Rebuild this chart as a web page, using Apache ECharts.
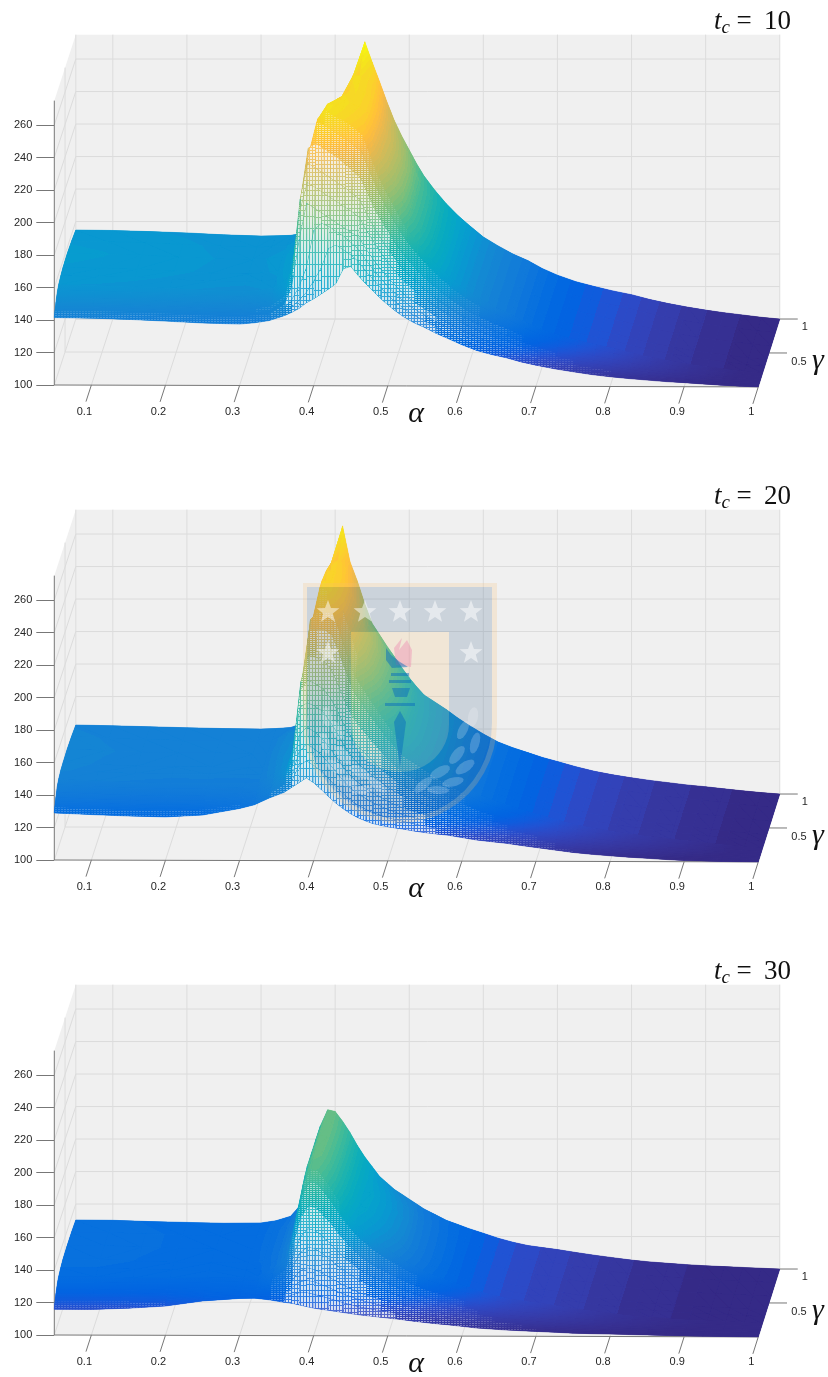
<!DOCTYPE html>
<html><head><meta charset="utf-8">
<style>html,body{margin:0;padding:0;background:#fff}#c{width:828px;height:1377px}</style>
<script src="https://cdn.jsdelivr.net/npm/echarts@6/dist/echarts.min.js"></script>
</head><body><div id="c"></div>
<script>
const baseAlphas=[.05,.1,.2,.3,.34,.36,.37,.38,.39,.4,.41,.42,.43,.44,.45,.46,.48,.5,.52,.55,.58,.62,.66,.7,.75,.8,.85,.9,.95,1];
const flankAlphas=[.47,.49,.51,.535,.565,.6,.64,.68,.725,.775,.825,.875,.925,.975];
const leftAlphas=[.15,.25,.32];
const gammas=[0,.01,.02,.03,.05,.07,.1,.15,.2,.3,.4,.6,.8,1];
const alphaTicks=[.1,.2,.3,.4,.5,.6,.7,.8,.9,1];
const gammaTicks=[.5,1];
const zTicks=[100,120,140,160,180,200,220,240,260];
const panelTitles=['10','20','30'];

// tc = 10, one row per gamma, columns baseAlphas
const z10=[
[141.5,141.2,139.5,137.8,140,143,145,147.5,151,153.5,156.5,159.5,163,172,173.5,168,158.5,150,143,136,129.5,122,117.5,113,109,106,104,102.5,101,100],
[142.7,142.4,140.7,139,141,145,148,152,157,164,172,184,186,183,180,176,165,155,147.5,139.5,132,124,119,114.5,110,107,104.5,103,101,100],
[143.9,143.6,141.9,140.2,142,147,152,160,172,195,199,197,194,191,187,183,170.5,160,151.5,142.5,135,126.5,121,115.5,111,107.5,105,103,101,100],
[144.9,144.6,142.9,141.2,143,149,160,189,211,208,205,202,199,196,193,190,176,165,155.5,146,137.5,128.5,122.5,117,112,108.5,105.5,103,101.5,100],
[146,145.7,144,142.3,144,151,166,205,223,220,217,214,211,208,205,201.5,186,173,162.5,151,142,132,125.5,119,114,110,106.5,104,101.5,100],
[147.5,147.2,145.5,143.8,146,153,170,212,234,231,228,225,222,219,215.5,211.5,194,180,168,155.5,145.5,135,128,121,115,111,107,104,102,100],
[149.5,149.2,147.5,145.8,148,155,172,212,242,245,242,239,236,232,228,224,204,189,175.5,161,150,138.5,131,123,117,112.5,108,104.5,102,100],
[152,151.7,150,148.3,150.5,157,170,200,238,256,254,251,248,245,241.5,238,216,198.5,183.5,167.5,155,143,134,125.5,119,114,109,105,102.5,100],
[153.5,153.2,151.5,149.8,152,158,170,192,226,256,261,258,256,253,250,246,222,204,188,171,158,145,136,127,120,115,109.5,105.5,102.5,100],
[155,154.7,153,151.3,153,159,170,186,212,244,261,260,258,256,253,250,227,210.5,192,173,158,145,136,127,120,115,109.5,105.5,102.5,100],
[156,155.7,154,152.3,154,159.5,170,182,202,230,255,260,259,257,255,252,229,213.5,193,174,158,145,136,127,120,115,109.5,105.5,102.5,100],
[156.5,156.2,154.5,152.8,154.5,159.5,170,180,195,215,237,253,256,258,256,252,230,215,193,174,158,145,136,127,120,115,109.5,105.5,102.5,100],
[156,155.7,154,152.3,153,157,166,174,186,202,222,243,258,258,255,250,227,211,192,173,158,145,136,127,120,115,109.5,105.5,102.5,100],
[154.8,154.5,153,151.1,151.5,153,156,162,170,182,197,217,243,270.6,258,246,222,204,188,171,158,145,136,127,120,115,109.5,105.5,102.5,100]];
const z10Flank=[
[163,154,146.3,139,132.5,125.5,119.5,115,110.8,107.3,104.9,103.1,101.7,100.4],
[170,159.9,151.2,143,135.7,128,121.6,116.6,112,108.3,105.6,103.5,101.9,100.5],
[176.4,165.1,155.6,146.6,138.5,130.3,123.4,118,113.1,109.2,106.2,103.9,102.1,100.5],
[182.7,170.4,160.1,150.2,141.3,132.5,125.2,119.5,114.2,110.1,106.9,104.3,102.3,100.6],
[193.3,179.2,167.5,156.2,146,136.3,128.3,121.9,116,111.6,108,105,102.6,100.7],
[202.5,186.8,173.9,161.4,150.1,139.5,131,124,117.6,112.9,108.9,105.5,102.9,100.8],
[213.8,196.1,181.7,167.8,155.2,143.5,134.3,126.5,119.6,114.5,110,106.2,103.3,100.9],
[226.5,206.7,190.6,175,160.9,148,137.9,129.4,121.8,116.3,111.3,107,103.7,101],
[233.5,212.5,195.5,179,164,150.5,140,131,123,117.3,112,107.4,103.9,101.1],
[239,219,201.5,182,165.5,150.5,140,131,123,117.3,112,107.4,103.9,101.1],
[241,222,204.5,183,166,150.5,140,131,123,117.3,112,107.4,103.9,101.1],
[242,223,205.5,183,166,150.5,140,131,123,117.3,112,107.4,103.9,101.1],
[239,219,201.9,182,165.5,150.5,140,131,123,117.3,112,107.4,103.9,101.1],
[233.5,212.5,195.5,179,164,150.5,140,131,123,117.3,112,107.4,103.9,101.1]];
const z10Left=[[140.5,138.4,138.6],[141.7,139.6,139.7],[142.9,140.8,141],[143.9,141.8,142],[145,142.9,143],[146.5,144.4,144.6],[148.5,146.4,146.6],[151,148.9,149],[152.5,150.4,150.5],[154,151.9,152],[155,152.9,153],[155.5,153.4,153.5],[155,152.9,152.6],[153.8,151.8,151.2]];

// tc = 20, one row per gamma, columns baseAlphas
const z20=[
[129,128,126.7,132,138.5,142,145,148,151,148,144,139.5,135.5,132,129,126.5,123,121,119.7,117.5,116,113,111,108.5,105.5,103.5,102,100.7,100.2,100],
[130.3,129.3,128,132.8,139.5,144,148,158,161,158,155,149.9,145,140.5,136.6,133.6,129,126,123.8,121,118.6,115,112.5,109.6,106.4,104.2,102.5,101,100.4,100],
[131.6,130.6,129.3,133.6,140.5,146,151,166,171,168,164,159,153.6,148,143.4,140,134.7,130.6,127.5,124,121,116.6,113.8,110.7,107,104.7,103,101.4,100.5,100],
[132.4,131.4,130.1,134.1,141,147,155,176,181,178,174,168.5,162.2,155.8,150.3,146.5,140,135,131.3,127,123.4,118.3,115,111.7,107.9,105.3,103.4,101.8,100.7,100],
[134,133,131.7,135,141.5,149,160,192,195,193,190,184,176.6,168.6,161.7,157,149.4,142.7,137.5,132.3,127.4,121.2,117.2,113.4,109.2,106.3,104.2,102.3,101,100],
[135.5,134.5,133.2,135.9,142,150,163,202,208,206,203,197.5,189,179.6,171.6,166.5,157.4,149.3,142.8,136.8,130.8,123.6,119,115,110.3,107.1,104.8,102.8,101.2,100],
[137.5,136.5,135.2,137.1,143,151,165,206,222,221,219,214,204,193,184,178,167.3,157.4,149.4,142.3,135,126.7,121.4,116.8,111.6,108.2,105.6,103.4,101.5,100],
[140,139,137.7,138.6,144,151,165,205,236,236,236,232.6,221.5,208.5,197.4,191,178.4,166.5,156.9,148.5,139.9,130.1,124,118.9,113.2,109.4,106.5,104.1,101.8,100],
[141.5,140.5,139.2,139.5,145,151,163,200,240,245,245,243,231,217,205,198,184.5,171.5,161,152,142.5,132,125.5,120,114,110,107,104.5,102,100],
[143,142,140.7,140.4,145.5,151,160,195,236,256,254,248,242,229,214,206.6,191.9,177.6,164,153.5,142.5,132,125.5,120,114,110,107,104.5,102,100],
[143.5,142.5,141.2,140.7,146,151,160,190,228,256,254,250,245,232,219,211,195.6,180.6,165,154,142.5,132,125.5,120,114,110,107,104.5,102,100],
[144,143,141.7,141,146,150,158,186,222,254,253,250,244,233,220,212.3,196.8,181.6,165,154,142.5,132,125.5,120,114,110,107,104.5,102,100],
[143.5,142.5,141.2,140.7,145,148,156,180,216,250,252,247,238,225,212,207.3,192.5,178,164,153.5,142.5,132,125.5,120,114,110,107,104.5,102,100],
[142.5,142,140.8,140,141,144,152,176,204,232,265,243,231,217,205,198,184.5,171.5,161,152,142.5,132,125.5,120,114,110,107,104.5,102,100]];
const z20Flank=[
[124.6,122,120.3,118.5,116.7,114.5,112,109.7,107,104.4,102.7,101.3,100.4,100.1],
[131.2,127.6,124.9,122.3,119.7,116.8,113.7,111,108,105.1,103.3,101.7,100.7,100.2],
[137.2,132.6,129,125.7,122.5,118.8,115.1,112.1,108.9,105.8,103.8,102.1,100.9,100.3],
[143.2,137.6,133.1,129.1,125.2,120.8,116.6,113.3,109.7,106.5,104.3,102.5,101.2,100.3],
[153.2,146,140,134.8,129.7,124.2,119.1,115.2,111.2,107.6,105.2,103.1,101.6,100.4],
[161.8,153.2,145.9,139.8,133.7,127.1,121.2,116.9,112.5,108.5,105.9,103.7,102,100.5],
[172.4,162.1,153.2,145.9,138.5,130.7,123.9,118.9,114.1,109.7,106.8,104.4,102.4,100.7],
[184.4,172.1,161.4,152.7,144,134.8,126.9,121.2,115.8,111.1,107.8,105.2,102.9,100.8],
[191,177.7,166,156.5,147,137,128.5,122.5,116.8,111.8,108.4,105.6,103.2,100.9],
[199,184,171.5,158,148,137,128.5,122.5,116.8,111.8,108.4,105.6,103.2,100.9],
[203,187.7,174.2,159,148.5,137,128.5,122.5,116.8,111.8,108.4,105.6,103.2,100.9],
[204,188.8,175.1,159,148.5,137,128.5,122.5,116.8,111.8,108.4,105.6,103.2,100.9],
[199.6,185,172,158,148,137,128.5,122.5,116.8,111.8,108.4,105.6,103.2,100.9],
[191,177.7,166,156.5,147,137,128.5,122.5,116.8,111.8,108.4,105.6,103.2,100.9]];
const z20Left=[[127.2,127.9,134.3],[128.5,129.1,134.9],[129.8,130.3,135.4],[130.6,131,135.8],[132.2,132.5,136.5],[133.7,133.9,137.2],[135.7,135.7,138],[138.2,138,139.1],[139.7,139.4,139.8],[141.2,140.8,140.5],[141.7,141.2,140.7],[142.2,141.7,141],[141.7,141.2,140.7],[141.4,140.3,140.3]];

// tc = 30, one column per base alpha
const z30ByAlpha=[
[115.8,117.1,118.4,119.4,120.8,122.3,123.8,126.3,127.8,129.3,130.3,130.8,130.8,130.2],
[115.8,117.1,118.4,119.4,120.8,122.3,123.8,126.3,127.8,129.3,130.3,130.8,130.8,130],
[118,119,119.9,120.7,121.7,122.8,123.9,125.8,126.9,128,128.7,129.1,129.1,128.7],
[122.8,123.3,123.8,124.2,124.8,125.3,125.9,126.9,127.5,128.1,128.5,128.7,128.7,128.4],
[122,123,124,125,126.5,128,130,132,133,133.5,134,134,134,132.5],
[120.5,122.7,124.8,126.8,130.2,133.1,136.7,140.3,141.9,142.5,143,143.5,143.5,143],
[120,124.5,128.6,132.6,139.4,145.2,152.4,159.6,162.8,164.1,165,165,165,165],
[119,125.9,132.1,138.3,148.7,157.6,168.7,179.7,184.6,186.6,188,188,188,188],
[118,126,133.2,140.4,152.4,162.8,175.6,188.4,194,196.4,198,198.5,199,198],
[117,125,132.2,139.4,151.4,161.8,174.6,187.4,193,195.4,197,198,198,197],
[116.3,123.8,130.5,137.2,148.4,158.1,170.1,182,187.3,189.5,191,192,192,191],
[115.7,122.5,128.7,134.8,145,153.9,164.9,175.8,180.6,182.6,184,185,185,184],
[115,121.1,126.6,132.1,141.2,149.2,158.9,168.7,173,174.8,176.5,177,177,176],
[114.3,119.8,124.7,129.6,137.8,144.9,153.7,162.4,166.3,168,169.5,170,170,169],
[113.7,118.6,123,127.5,134.9,141.3,149.2,157.1,160.5,162,163.5,164,164,163],
[113,117.4,121.4,125.3,131.9,137.6,144.7,152.6,157,160,162,163,160,157],
[112,115.7,119,122.4,127.9,132.7,138.6,145.3,149,153.4,155.7,156.4,153.8,149],
[111,114.2,117.1,120,124.8,128.9,134,139.8,143,146.8,148.8,149.4,147.2,143],
[110,112.7,115.1,117.6,121.6,125.1,129.4,134.3,137,139,140,140,139,137],
[108.3,110.5,112.4,114.4,117.6,120.5,123.9,127.8,130,131,131.5,131.5,131,130],
[107,108.8,110.4,112,114.7,117.1,120,123.2,125,125,125,125,125,125],
[105,106.4,107.7,108.9,111,112.8,115.1,117.6,119,119,119,119,119,119],
[103.8,104.9,105.8,106.8,108.4,109.8,111.5,113.4,114.5,114.5,114.5,114.5,114.5,114.5],
[103,103.9,104.7,105.5,106.9,108,109.5,111.1,112,112,112,112,112,112],
[102,102.7,103.2,103.8,104.8,105.6,106.7,107.9,108.5,108.5,108.5,108.5,108.5,108.5],
[101.5,101.9,102.3,102.6,103.2,103.7,104.4,105.1,105.5,105.5,105.5,105.5,105.5,105.5],
[101,101.3,101.5,101.7,102.1,102.4,102.8,103.3,103.5,103.5,103.5,103.5,103.5,103.5],
[100.5,100.7,100.8,100.9,101.1,101.3,101.6,101.9,102,102,102,102,102,102],
[100.2,100.3,100.4,100.4,100.5,100.6,100.8,100.9,101,101,101,101,101,101],
[100,100,100,100,100,100,100,100,100,100,100,100,100,100]];
const z30=gammas.map((g,i)=>z30ByAlpha.map(col=>col[i]));
const z30Flank=[
[112.5,111.5,110.5,109.1,107.6,106,104.4,103.4,102.5,101.7,101.2,100.7,100.3,100.1],
[116.6,115,113.5,111.5,109.6,107.6,105.6,104.4,103.3,102.2,101.5,100.9,100.4,100.1],
[120.2,118.1,116.1,113.7,111.4,109,106.7,105.3,104,102.7,101.8,101.1,100.5,100.2],
[123.8,121.2,118.8,115.9,113.2,110.5,107.8,106.1,104.7,103.2,102.1,101.3,100.6,100.2],
[129.9,126.3,123.2,119.6,116.2,112.9,109.6,107.6,105.8,104,102.6,101.6,100.8,100.3],
[135.2,130.8,127,122.8,118.7,115,111.2,108.9,106.8,104.7,103,101.8,101,100.3],
[141.7,136.3,131.7,126.7,121.9,117.5,113.1,110.5,108,105.5,103.5,102.1,101.2,100.4],
[149,142.5,137,131,125.5,120.4,115.3,112.2,109.4,106.5,104.1,102.5,101.4,100.5],
[153,146,140,133.5,127.5,122,116.5,113.2,110.2,107,104.4,102.7,101.5,100.5],
[157,149.8,143.5,135,128,122,116.5,113.2,110.2,107,104.4,102.7,101.5,100.5],
[159,152,145.3,135.5,128.5,122,116.5,113.2,110.2,107,104.4,102.7,101.5,100.5],
[159.7,152.9,146,135.5,128.5,122,116.5,113.2,110.2,107,104.4,102.7,101.5,100.5],
[157.4,150.2,143.9,135,128,122,116.5,113.2,110.2,107,104.4,102.7,101.5,100.5],
[153,146,140,133.5,127.5,122,116.5,113.2,110.2,107,104.4,102.7,101.5,100.5]];
const z30Left=[[116.6,121.2,123],[117.7,121.8,123.6],[118.9,122.5,124.2],[119.8,123,124.7],[121,123.7,125.3],[122.3,124.4,126],[123.6,125.1,126.7],[125.8,126.3,127.8],[127.1,127.1,128.5],[128.4,127.8,129.2],[129.3,128.3,129.7],[129.7,128.6,129.9],[129.7,128.6,129.9],[129.2,128.2,129.7]];

// all column sets merged in alpha order
const alphas=[...baseAlphas,...flankAlphas,...leftAlphas].sort((a,b)=>a-b);
const mergeRows=(base,flank,left)=>gammas.map((g,i)=>alphas.map(a=>{
  let k=baseAlphas.indexOf(a);if(k>=0) return base[i][k];
  k=flankAlphas.indexOf(a);if(k>=0) return flank[i][k];
  return left[i][leftAlphas.indexOf(a)];}));
const panels=[mergeRows(z10,z10Flank,z10Left),mergeRows(z20,z20Flank,z20Left),mergeRows(z30,z30Flank,z30Left)];

const parulaRGB=[[.2081,.1663,.5292],[.2116,.1898,.5777],[.2123,.2138,.627],[.2081,.2386,.6771],[.1959,.2645,.7279],[.1707,.2919,.7792],[.1253,.3242,.8303],[.0591,.3598,.8683],[.0117,.3875,.882],[.006,.4086,.8828],[.0165,.4266,.8786],[.0329,.443,.872],[.0498,.4586,.8641],[.0629,.4737,.8554],[.0723,.4887,.8467],[.0779,.504,.8384],[.0793,.52,.8312],[.0749,.5375,.8263],[.0641,.557,.824],[.0488,.5772,.8228],[.0343,.5966,.8199],[.0265,.6137,.8135],[.0239,.6287,.8038],[.0231,.6418,.7913],[.0228,.6535,.7768],[.0267,.6642,.7607],[.0384,.6743,.7436],[.059,.6838,.7254],[.0843,.6928,.7062],[.1133,.7015,.6859],[.1453,.7098,.6646],[.1801,.7177,.6424],[.2178,.725,.6193],[.2586,.7317,.5954],[.3022,.7376,.5712],[.3482,.7424,.5473],[.3953,.7459,.5244],[.442,.7481,.5033],[.4871,.7491,.484],[.53,.7491,.4661],[.5709,.7485,.4494],[.6099,.7473,.4337],[.6473,.7456,.4188],[.6834,.7435,.4044],[.7184,.7411,.3905],[.7525,.7384,.3768],[.7858,.7356,.3633],[.8185,.7327,.3498],[.8507,.7299,.336],[.8824,.7274,.3217],[.9139,.7258,.3063],[.945,.7261,.2886],[.9739,.7314,.2666],[.9938,.7455,.2403],[.999,.7653,.2164],[.9955,.7861,.1967],[.988,.8066,.1794],[.9789,.8271,.1633],[.9697,.8481,.1475],[.9626,.8705,.1309],[.9589,.8949,.1132],[.9598,.9218,.0948],[.9661,.9514,.0755],[.9763,.9831,.0538]];
const toCss=c=>'rgb('+c.map(v=>Math.round(v*255)).join(',')+')';
const parula=parulaRGB.map(toCss);
const Z_MIN=100,Z_MAX=271;
const lvl=z=>Math.max(0,Math.min(63,Math.floor((z-Z_MIN)/(Z_MAX-Z_MIN)*64)));
const lvlTop=L=>Z_MIN+(L+1)/64*(Z_MAX-Z_MIN);
const colorAt=z=>{ // colour ramp between the centres of the 64 levels
  const t=Math.max(0,Math.min(63,(z-Z_MIN)/(Z_MAX-Z_MIN)*64-.5)),i=Math.min(62,Math.floor(t)),f=t-i;
  return toCss(parulaRGB[i].map((v,n)=>v+(parulaRGB[i+1][n]-v)*f));
};

// view of the box: gamma shears the alpha and z scales
const ALPHA_MIN=.05,ALPHA_MAX=1.0284,Z_AXIS_MAX=316,Z_BOX_TOP=275;
const SHEAR=.029,LIFT=40.6,TILT=1.17;
const project=(a,g,z)=>[a+g*SHEAR,z+g*LIFT-(a-ALPHA_MIN)/(1-ALPHA_MIN)*(1-g)*TILT];
const MESH_STEP=.0045,SOLID_BELOW=.95;

// mesh holes as repeating tiles
const tileCache={};
function holeTile(p,al){
  const key=p+'_'+al;
  if(tileCache[key]) return tileCache[key];
  const cv=document.createElement('canvas');cv.width=3;cv.height=p;
  const c=cv.getContext('2d');
  if(p>=3){c.fillStyle='rgba(247,247,247,.2)';c.fillRect(0,0,3,p);}
  c.clearRect(1,1,2,p-1);
  c.fillStyle='rgba(247,247,247,'+al+')';c.fillRect(1,1,2,p-1);
  return tileCache[key]={type:'pattern',image:cv,repeat:'repeat'};
}
function triFill(A,B,C,hard){
  const [H,M,L]=[A,B,C].sort((u,v)=>v.z-u.z);
  const Lh=lvl(H.z),Ll=lvl(L.z);
  if(hard&&Lh===Ll) return parula[Lh];
  if(H.z===L.z) return colorAt(H.z);
  const span=H.z-L.z,f=(H.z-M.z)/span;
  const qx=H.p[0]+(L.p[0]-H.p[0])*f,qy=H.p[1]+(L.p[1]-H.p[1])*f;
  const dx=M.p[0]-qx,dy=M.p[1]-qy,len=Math.hypot(dx,dy);
  let nx,ny;
  if(len<1e-3){const ex=L.p[0]-H.p[0],ey=L.p[1]-H.p[1],el=Math.hypot(ex,ey)||1;nx=ex/el;ny=ey/el;}
  else{nx=dy/len;ny=-dx/len;}
  const proj=(L.p[0]-H.p[0])*nx+(L.p[1]-H.p[1])*ny;
  const stops=[];
  if(hard){
    for(let v=Lh;v>=Ll;v--){
      const top=Math.min(H.z,lvlTop(v)),bot=Math.max(L.z,lvlTop(v-1));
      stops.push({offset:(H.z-top)/span,color:parula[v]});
      stops.push({offset:(H.z-bot)/span,color:parula[v]});
    }
  }else{
    const half=(Z_MAX-Z_MIN)/128;
    stops.push({offset:0,color:colorAt(H.z)});
    for(let v=Lh;v>=Ll;v--){
      const o=(H.z-(lvlTop(v)-half))/span;
      if(o>0&&o<1) stops.push({offset:o,color:parula[v]});
    }
    stops.push({offset:1,color:colorAt(L.z)});
  }
  return {type:'linear',global:true,x:H.p[0],y:H.p[1],x2:H.p[0]+nx*proj,y2:H.p[1]+ny*proj,colorStops:stops};
}
function surfaceItem(params,api){
  const a0=api.value(0),g0=api.value(1),a1=api.value(2),g1=api.value(3);
  const mk=(a,g,z)=>({p:api.coord(project(a,g,z)),z});
  const c00=mk(a0,g0,api.value(4)),c10=mk(a1,g0,api.value(5)),c11=mk(a1,g1,api.value(6)),c01=mk(a0,g1,api.value(7));
  const rowPx=(Math.abs(c01.p[1]-c00.p[1])+Math.abs(c11.p[1]-c10.p[1]))/2;
  const spacing=rowPx*MESH_STEP/(g1-g0);
  const solid=spacing<SOLID_BELOW;
  const hard=g0>=.2;
  const quad=[c00.p,c10.p,c11.p,c01.p];
  const tris=Math.abs(c00.z-c11.z)<Math.abs(c10.z-c01.z)?[[c00,c10,c11],[c00,c11,c01]]:[[c00,c10,c01],[c10,c11,c01]];
  const mean=colorAt((c00.z+c10.z+c11.z+c01.z)/4);
  const children=[{type:'polygon',shape:{points:quad},style:{fill:mean,stroke:mean,lineWidth:.5}}];
  tris.forEach(t=>{
    const fill=triFill(t[0],t[1],t[2],hard);
    const poly={type:'polygon',shape:{points:t.map(c=>c.p)},style:{fill}};
    children.push(poly,{type:'polygon',shape:{points:t.map(c=>c.p)},style:{fill}});
  });
  if(!solid){
    const p=Math.max(2,Math.min(12,Math.round(spacing)));
    const al=Math.min(.85,Math.round((.1+(spacing-SOLID_BELOW)*.45)*10)/10);
    children.push({type:'polygon',shape:{points:quad},style:{fill:holeTile(p,al)}});
  }
  return {type:'group',children};
}
function frameItem(params,api){
  const P=(a,g,z)=>api.coord(project(a,g,z));
  const wall='#f0f0f0',grid='#dcdcdc',axis='#777';
  const poly=pts=>({type:'polygon',shape:{points:pts},style:{fill:wall}});
  const line=(p,q,c,w)=>({type:'line',shape:{x1:p[0],y1:p[1],x2:q[0],y2:q[1]},style:{stroke:c,lineWidth:w||1}});
  const A0=ALPHA_MIN,T=Z_BOX_TOP,ch=[];
  ch.push(poly([P(A0,1,100),P(1,1,100),P(1,1,T),P(A0,1,T)]));
  ch.push(poly([P(A0,0,100),P(A0,1,100),P(A0,1,T),P(A0,0,T)]));
  ch.push(poly([P(A0,0,100),P(1,0,100),P(1,1,100),P(A0,1,100)]));
  zTicks.forEach(z=>{ch.push(line(P(A0,1,z),P(1,1,z),grid));ch.push(line(P(A0,0,z),P(A0,1,z),grid));});
  alphaTicks.forEach(a=>{ch.push(line(P(a,1,100),P(a,1,T),grid));ch.push(line(P(a,0,100),P(a,1,100),grid));
    ch.push(line(P(a,0,100),P(a,-.25,100),axis));});
  gammaTicks.forEach(g=>{ch.push(line(P(A0,g,100),P(1,g,100),grid));ch.push(line(P(A0,g,100),P(A0,g,T),grid));
    const p=P(1,g,100);
    ch.push(line(p,P(1.0243,g,100),axis));
    ch.push({type:'text',x:p[0]+(g===1?25:30),y:p[1]+(g===1?8:9),style:{text:String(g),fill:'#262626',font:'11px "Liberation Sans"',textAlign:'center',textVerticalAlign:'middle'}});
  });
  ch.push(line(P(A0,0,100),P(A0,0,T),axis));
  ch.push(line(P(A0,0,100),P(1,0,100),axis));
  return {type:'group',children:ch};
}

const PANEL_TOPS=[34,509,984];
const grids=[],xAxes=[],yAxes=[],series=[],graphics=[];
panels.forEach((rows,k)=>{
  grids.push({left:54.3,width:725,top:PANEL_TOPS[k],height:351});
  xAxes.push({type:'value',gridIndex:k,min:ALPHA_MIN,max:ALPHA_MAX,axisLine:{show:false},axisTick:{show:false},splitLine:{show:false},
    axisLabel:{customValues:alphaTicks,margin:21,padding:[0,14,0,0],color:'#262626',fontSize:11,fontFamily:'Liberation Sans'}});
  yAxes.push({type:'value',gridIndex:k,min:100,max:Z_AXIS_MAX,axisLine:{show:false},splitLine:{show:false},
    axisTick:{show:true,customValues:zTicks,length:18,lineStyle:{color:'#777'}},
    axisLabel:{customValues:zTicks,margin:22,color:'#262626',fontSize:11,fontFamily:'Liberation Sans'}});
  series.push({type:'custom',xAxisIndex:k,yAxisIndex:k,coordinateSystem:'cartesian2d',z:1,silent:true,animation:false,clip:false,
    renderItem:frameItem,data:[[ALPHA_MIN,0]]});
  const cells=[];
  for(let i=gammas.length-2;i>=0;i--) for(let j=alphas.length-2;j>=0;j--)
    cells.push([alphas[j],gammas[i],alphas[j+1],gammas[i+1],rows[i][j],rows[i][j+1],rows[i+1][j+1],rows[i+1][j]]);
  series.push({type:'custom',xAxisIndex:k,yAxisIndex:k,coordinateSystem:'cartesian2d',z:2,silent:true,animation:false,clip:false,
    progressive:0,renderItem:surfaceItem,encode:{x:0,y:4},data:cells});
  const dy=k*475;
  graphics.push({type:'text',z:50,x:791,y:6+dy,style:{rich:{t:{font:'italic 27px "Liberation Serif"',fill:'#111'},c:{font:'italic 19px "Liberation Serif"',fill:'#111',verticalAlign:'bottom',padding:[12,0,0,0]},n:{font:'27px "Liberation Serif"',fill:'#111'}},
    text:'{t|t}{c|c}{n| = \u2009'+panelTitles[k]+'}',textAlign:'right',textVerticalAlign:'top'}});
  graphics.push({type:'text',z:50,x:416,y:414+dy,style:{text:'α',font:'italic 30px "Liberation Serif"',fill:'#111',textAlign:'center',textVerticalAlign:'middle'}});
  graphics.push({type:'text',z:50,x:818,y:361+dy,style:{text:'γ',font:'italic 30px "Liberation Serif"',fill:'#111',textAlign:'center',textVerticalAlign:'middle'}});
});

// faded university crest over the middle panel
const arc=(cx,cy,rx,ry,from,to,n)=>{const o=[];for(let i=0;i<=n;i++){const t=from+(to-from)*i/n;o.push([cx+rx*Math.cos(t),cy+ry*Math.sin(t)]);}return o;};
const shield=(x0,x1,yt,ym,yb)=>[[x0,yt],[x1,yt],...arc((x0+x1)/2,ym,(x1-x0)/2,yb-ym,0,Math.PI,24),[x0,yt]];
const outerS=shield(303,497,583,723,823),midS=shield(307,492,587,723,818),innerS=shield(351,449,632,725,772);
const P_=(pts,fill)=>({type:'polygon',z:60,silent:true,shape:{points:pts},style:{fill}});
const star=(cx,cy,r)=>{const o=[];for(let i=0;i<10;i++){const t=-Math.PI/2+i*Math.PI/5,q=i%2?r*.42:r;o.push([cx+q*Math.cos(t),cy+q*Math.sin(t)]);}return o;};
const leaf=(cx,cy,l,w,ang)=>{const o=[];for(let i=0;i<14;i++){const t=i/14*2*Math.PI,u=l*Math.cos(t),v=w*Math.sin(t);o.push([cx+u*Math.cos(ang)-v*Math.sin(ang),cy+u*Math.sin(ang)+v*Math.cos(ang)]);}return o;};
graphics.push(P_([...outerS,...midS.slice().reverse()],'rgba(245,190,120,.22)'));
graphics.push(P_([...midS,...innerS.slice().reverse()],'rgba(40,85,130,.18)'));
graphics.push(P_(innerS,'rgba(245,190,110,.2)'));
[[328,612],[365,612],[400,612],[435,612],[471,612],[328,653],[471,653]].forEach(s=>graphics.push(P_(star(s[0],s[1],12),'rgba(255,255,255,.5)')));
const torch='rgba(10,110,190,.5)';
graphics.push(P_([[396,665],[394,648],[402,638],[399,650],[407,640],[412,650],[411,667]],'rgba(235,110,165,.32)'));
graphics.push(P_([[386,648],[391,655],[400,662],[408,667],[392,668],[386,660]],torch));
graphics.push(P_([[391,673],[409,673],[409,676],[391,676]],torch));
graphics.push(P_([[389,680],[411,680],[411,683],[389,683]],torch));
graphics.push(P_([[392,688],[410,688],[407,697],[395,697]],torch));
graphics.push(P_([[385,703],[415,703],[415,706],[385,706]],torch));
graphics.push(P_([[400,711],[406,722],[403,745],[400,767],[397,745],[394,722]],torch));
[[473,717,10,5,-1.4],[463,730,10,4.5,-1.1],[475,743,11,4.5,-1.3],[457,755,11,5,-.9],[465,767,11,5,-.6],[440,772,11,5,-.5],[453,782,11,4.5,-.25],[423,785,11,4.5,-.7],[438,790,11,4,.05]]
 .forEach(l=>{graphics.push(P_(leaf(l[0],l[1],l[2],l[3],l[4]),'rgba(255,255,255,.2)'));
   graphics.push(P_(leaf(800-l[0],l[1],l[2],l[3],Math.PI-l[4]),'rgba(255,255,255,.2)'));});

const chart=echarts.init(document.getElementById('c'),null,{renderer:'canvas'});
chart.setOption({animation:false,backgroundColor:'#fff',grid:grids,xAxis:xAxes,yAxis:yAxes,series,graphic:{elements:graphics}});
</script></body></html>
